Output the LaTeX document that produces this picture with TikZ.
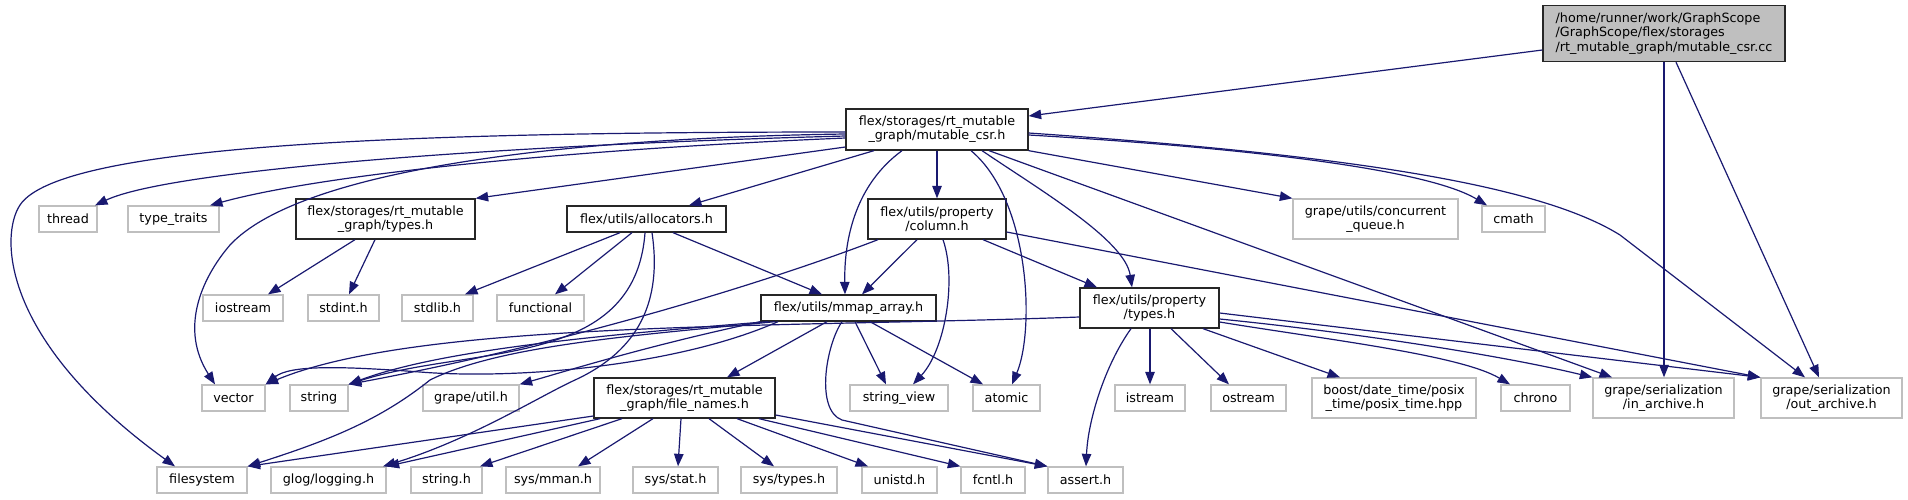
\documentclass[tikz,border=0pt]{standalone}
\usepackage{fontspec}
\setmainfont{DejaVu Sans}
\usetikzlibrary{arrows.meta}
\definecolor{edgec}{HTML}{191970}
\definecolor{grayb}{HTML}{BFBFBF}
\newcommand\nf{\fontsize{12.75}{14.2}\selectfont}
\begin{document}
\begin{tikzpicture}[x=1pt,y=-1pt,
  doc/.style={draw=black!85, line width=1.3pt, fill=white, inner sep=0pt, align=center, font=\nf},
  ext/.style={doc, draw=grayb},
  ed/.style={draw=edgec, line width=1.2pt, -{Triangle[length=12.5pt,width=9.5pt]}}]
\useasboundingbox (0,0) rectangle (1908,499);
% row 0/1
\node[doc, fill=grayb, align=left, minimum width=242pt, minimum height=56pt] (src) at (1664,33.5) {/home/runner/work/GraphScope\\/GraphScope/flex/storages\\/rt\_mutable\_graph/mutable\_csr.cc};
\node[doc, minimum width=182pt, minimum height=41pt] (mcsr) at (937,129.5) {flex/storages/rt\_mutable\\\_graph/mutable\_csr.h};
% row 2
\node[ext, minimum width=58pt, minimum height=26pt] (thread) at (68,219) {thread};
\node[ext, minimum width=91pt, minimum height=26pt] (ttraits) at (173.5,219) {type\_traits};
\node[doc, minimum width=179pt, minimum height=40pt] (rtypes) at (385.5,219) {flex/storages/rt\_mutable\\\_graph/types.h};
\node[doc, minimum width=159pt, minimum height=26pt] (alloc) at (646.5,219) {flex/utils/allocators.h};
\node[doc, minimum width=138pt, minimum height=40pt] (column) at (937,219) {flex/utils/property\\/column.h};
\node[ext, minimum width=165pt, minimum height=40pt] (cqueue) at (1375.5,219) {grape/utils/concurrent\\\_queue.h};
\node[ext, minimum width=63pt, minimum height=26pt] (cmath) at (1513.5,219) {cmath};
% row 3
\node[ext, minimum width=80pt, minimum height=26pt] (iostream) at (243,308) {iostream};
\node[ext, minimum width=71pt, minimum height=26pt] (stdint) at (343.5,308) {stdint.h};
\node[ext, minimum width=71pt, minimum height=26pt] (stdlib) at (437.5,308) {stdlib.h};
\node[ext, minimum width=87pt, minimum height=26pt] (functional) at (540.5,308) {functional};
\node[doc, minimum width=175pt, minimum height=26pt] (mmap) at (848.5,308) {flex/utils/mmap\_array.h};
\node[doc, minimum width=139pt, minimum height=40pt] (ptypes) at (1149.5,308) {flex/utils/property\\/types.h};
% row 4
\node[ext, minimum width=63pt, minimum height=26pt] (vector) at (233.5,398) {vector};
\node[ext, minimum width=58pt, minimum height=26pt] (string) at (319,398) {string};
\node[ext, minimum width=96pt, minimum height=26pt] (gutil) at (471,398) {grape/util.h};
\node[doc, minimum width=181pt, minimum height=40pt] (fnames) at (684.5,398) {flex/storages/rt\_mutable\\\_graph/file\_names.h};
\node[ext, minimum width=98pt, minimum height=26pt] (sview) at (899,398) {string\_view};
\node[ext, minimum width=67pt, minimum height=26pt] (atomic) at (1006.5,398) {atomic};
\node[ext, minimum width=70pt, minimum height=26pt] (istream) at (1150,398) {istream};
\node[ext, minimum width=75pt, minimum height=26pt] (ostream) at (1248.5,398) {ostream};
\node[ext, minimum width=164pt, minimum height=40pt] (posix) at (1394,398) {boost/date\_time/posix\\\_time/posix\_time.hpp};
\node[ext, minimum width=69pt, minimum height=26pt] (chrono) at (1535.5,398) {chrono};
\node[ext, minimum width=141pt, minimum height=40pt] (inarch) at (1663.5,398) {grape/serialization\\/in\_archive.h};
\node[ext, minimum width=141pt, minimum height=40pt] (outarch) at (1831.5,398) {grape/serialization\\/out\_archive.h};
% row 5
\node[ext, minimum width=90pt, minimum height=26pt] (fsys) at (202,480) {filesystem};
\node[ext, minimum width=115pt, minimum height=26pt] (glog) at (328.5,480) {glog/logging.h};
\node[ext, minimum width=71pt, minimum height=26pt] (stringh) at (446.5,480) {string.h};
\node[ext, minimum width=94pt, minimum height=26pt] (mman) at (553,480) {sys/mman.h};
\node[ext, minimum width=85pt, minimum height=26pt] (sstat) at (675.5,480) {sys/stat.h};
\node[ext, minimum width=96pt, minimum height=26pt] (stypes) at (789,480) {sys/types.h};
\node[ext, minimum width=75pt, minimum height=26pt] (unistd) at (899.5,480) {unistd.h};
\node[ext, minimum width=64pt, minimum height=26pt] (fcntl) at (993,480) {fcntl.h};
\node[ext, minimum width=75pt, minimum height=26pt] (assert) at (1085.5,480) {assert.h};
% edges from src
\draw[ed] (src.west |- 0,50) -- (mcsr.east |- 0,116);
\draw[ed] (src.south -| 1664,0) -- (inarch.north -| 1664,0);
\draw[ed] (src.south -| 1676,0) -- (outarch.north -| 1819,0);
% edges from mutable_csr.h
\draw[ed] (mcsr.west |- 0,136) .. controls (500,145) and (170,170) .. (thread.north -| 95,0);
\draw[ed] (mcsr.west |- 0,138) .. controls (560,150) and (320,175) .. (ttraits.north -| 210,0);
\draw[ed] (mcsr.west |- 0,132) .. controls (400,132) and (60,145) .. (20,205) .. controls (0,235) and (0,340) .. (fsys.north -| 175,0);
\draw[ed] (mcsr.west |- 0,134) .. controls (560,138) and (300,170) .. (230,245) .. controls (200,280) and (180,330) .. (vector.north -| 215,0);
\draw[ed] (mcsr.west |- 0,147) -- (rtypes.north east);
\draw[ed] (mcsr.south -| 874,0) -- (alloc.north -| 689,0);
\draw[ed] (mcsr.south) -- (column.north);
\draw[ed] (mcsr.south -| 902,0) .. controls (855,185) and (844,240) .. (mmap.north -| 845,0);
\draw[ed] (mcsr.south -| 982,0) .. controls (1040,190) and (1125,240) .. (ptypes.north -| 1132,0);
\draw[ed] (mcsr.south -| 971,0) .. controls (1030,200) and (1035,330) .. (atomic.north -| 1012,0);
\draw[ed] (mcsr.south -| 989,0) -- (inarch.north -| 1612,0);
\draw[ed] (mcsr.south east) -- (cqueue.north west);
\draw[ed] (mcsr.east |- 0,135) .. controls (1200,145) and (1420,165) .. (cmath.north -| 1487,0);
\draw[ed] (mcsr.east |- 0,133) .. controls (1350,155) and (1540,185) .. (1620,235) -- (outarch.north -| 1805,0);
% rt types
\draw[ed] (rtypes.south -| 355,0) -- (iostream.north -| 268,0);
\draw[ed] (rtypes.south -| 375,0) -- (stdint.north -| 349,0);
% allocators
\draw[ed] (alloc.south -| 620,0) -- (stdlib.north -| 465,0);
\draw[ed] (alloc.south -| 632,0) -- (functional.north -| 555,0);
\draw[ed] (alloc.south -| 645,0) .. controls (635,370) and (470,345) .. (string.north east);
\draw[ed] (alloc.south -| 652,0) .. controls (662,300) and (640,350) .. (575,380) .. controls (540,396) and (470,440) .. (glog.north -| 383,0);
\draw[ed] (alloc.south -| 673,0) -- (mmap.north -| 822,0);
% column
\draw[ed] (column.south -| 917,0) -- (mmap.north -| 862,0);
\draw[ed] (column.south -| 943,0) .. controls (957,280) and (945,350) .. (sview.north -| 913,0);
\draw[ed] (column.south -| 983,0) -- (ptypes.north -| 1097,0);
\draw[ed] (column.east |- 0,232) -- (outarch.north west);
\draw[ed] (column.south -| 878,0) .. controls (760,285) and (560,345) .. (string.north east);
% mmap
\draw[ed] (mmap.south -| 827,0) -- (fnames.north -| 727,0);
\draw[ed] (mmap.south -| 855,0) -- (sview.north -| 886,0);
\draw[ed] (mmap.south -| 870,0) -- (atomic.north -| 983,0);
\draw[ed] (mmap.south -| 842,0) .. controls (826,345) and (815,410) .. (842,420) -- (assert.north west);
\draw[ed] (mmap.south -| 778,0) .. controls (680,365) and (520,380) .. (420,372) .. controls (340,366) and (290,365) .. (vector.north east);
\draw[ed] (mmap.south -| 768,0) .. controls (600,335) and (440,350) .. (string.north east);
\draw[ed] (mmap.south west) .. controls (650,345) and (570,370) .. (gutil.north east);
\draw[ed] (mmap.south -| 775,0) .. controls (640,335) and (500,345) .. (430,380) .. controls (380,420) and (330,440) .. (fsys.north east);
% property types
\draw[ed] (ptypes.west |- 0,317) .. controls (780,328) and (420,320) .. (vector.north east);
\draw[ed] (ptypes.south -| 1131,0) .. controls (1105,365) and (1088,420) .. (assert.north -| 1086,0);
\draw[ed] (ptypes.south -| 1150,0) -- (istream.north);
\draw[ed] (ptypes.south -| 1171,0) -- (ostream.north -| 1229,0);
\draw[ed] (ptypes.south -| 1203,0) -- (posix.north -| 1340,0);
\draw[ed] (ptypes.east |- 0,322) .. controls (1330,340) and (1460,355) .. (chrono.north -| 1510,0);
\draw[ed] (ptypes.east |- 0,319) .. controls (1350,332) and (1500,355) .. (inarch.north west);
\draw[ed] (ptypes.east |- 0,313) -- (outarch.north west);
% file names
\draw[ed] (fnames.west |- 0,416) -- (fsys.north east);
\draw[ed] (fnames.south -| 600,0) -- (glog.north east);
\draw[ed] (fnames.south -| 622,0) -- (stringh.north -| 480,0);
\draw[ed] (fnames.south -| 653,0) -- (mman.north -| 578,0);
\draw[ed] (fnames.south -| 681,0) -- (sstat.north -| 678,0);
\draw[ed] (fnames.south -| 709,0) -- (stypes.north -| 774,0);
\draw[ed] (fnames.south -| 737,0) -- (unistd.north -| 868,0);
\draw[ed] (fnames.south -| 759,0) -- (fcntl.north west);
\draw[ed] (fnames.east |- 0,415) -- (assert.north west);
\end{tikzpicture}
\end{document}
